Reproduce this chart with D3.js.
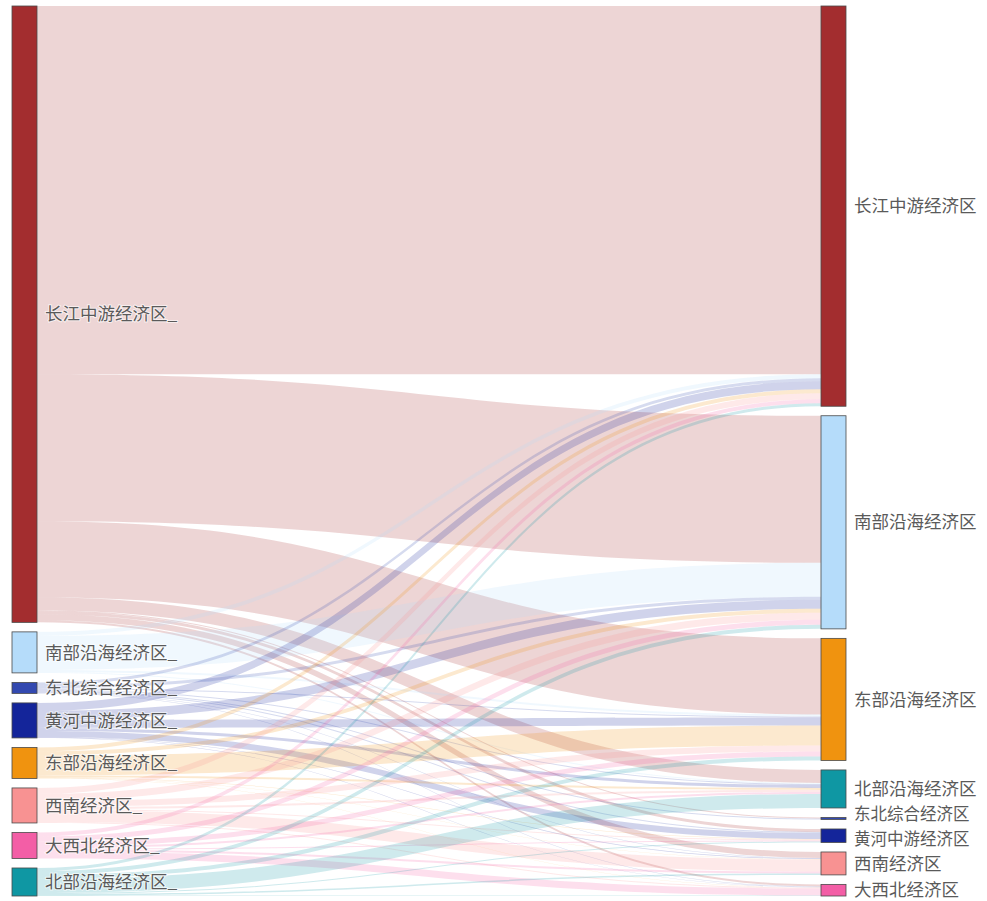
<!DOCTYPE html>
<html>
<head>
<meta charset="utf-8">
<script src="https://cdn.jsdelivr.net/npm/d3@7"></script>
<style>
  html, body { margin: 0; padding: 0; background: #fff; }
  svg { display: block; }
</style>
</head>
<body>
<div id="sankey-container"></div>
<script>
// left column (sources), top to bottom
const sourceNames = ['长江中游经济区', '南部沿海经济区', '东北综合经济区', '黄河中游经济区',
  '东部沿海经济区', '西南经济区', '大西北经济区', '北部沿海经济区'];
// right column (targets), top to bottom
const targetNames = ['长江中游经济区', '南部沿海经济区', '东部沿海经济区', '北部沿海经济区',
  '东北综合经济区', '黄河中游经济区', '西南经济区', '大西北经济区'];

// flows[source][target], targets in targetNames order
const flows = [
  [368, 147, 76, 13, 1, 3, 6, 2],
  [4, 34, 2, 1, 0, 0, 0, 0],
  [3, 3, 1, 1, 1, 1, 0.5, 0.5],
  [8, 9, 8, 3, 0, 6, 0.6, 0.4],
  [4, 4, 20, 2, 0, 0.5, 0.3, 0.2],
  [6, 7, 6, 2, 0, 1, 12, 1],
  [4, 5, 5, 2, 0, 1, 2, 7],
  [3, 4, 4, 14, 0, 1, 1.5, 0.5]
];

const regionColor = {
  '长江中游经济区': '#a32d2f',
  '南部沿海经济区': '#b5dcfa',
  '东北综合经济区': '#3349b0',
  '黄河中游经济区': '#14259a',
  '东部沿海经济区': '#f0930f',
  '西南经济区': '#f89292',
  '大西北经济区': '#f35ea6',
  '北部沿海经济区': '#0f97a3'
};

const width = 987;
const height = 901;
const yTop = 6, yBottom = 896;
const pad = 9.5;
const nodeWidth = 25;
const xLeft = 12, xRight = 821;

const svg = d3.select('#sankey-container')
  .append('svg')
  .attr('width', width)
  .attr('height', height)
  .style('background-color', '#fff');

const leftTotals = flows.map(row => d3.sum(row));
const rightTotals = targetNames.map((_, j) => d3.sum(flows, row => row[j]));
const maxTotal = Math.max(d3.sum(leftTotals), d3.sum(rightTotals));

const ky = d3.scaleLinear()
  .domain([0, maxTotal])
  .range([0, (yBottom - yTop) - (sourceNames.length - 1) * pad]);

function stack(names, totals, x) {
  let y = yTop;
  return names.map((name, i) => {
    const node = { name, x0: x, x1: x + nodeWidth, y0: y, y1: y + ky(totals[i]) };
    y = node.y1 + pad;
    return node;
  });
}

const leftNodes = stack(sourceNames, leftTotals, xLeft);
const rightNodes = stack(targetNames, rightTotals, xRight);

// link positions: at the source ordered by target, at the target ordered by source
const links = [];
const srcOffset = leftNodes.map(n => n.y0);
const tgtOffset = rightNodes.map(n => n.y0);
flows.forEach((row, i) => {
  row.forEach((v, j) => {
    if (v <= 0) return;
    links.push({ source: i, target: j, value: v, sy: 0, ty: 0 });
  });
});
links.forEach(l => {
  l.sy = srcOffset[l.source];
  srcOffset[l.source] += ky(l.value);
});
d3.range(targetNames.length).forEach(j => {
  links.filter(l => l.target === j)
    .sort((a, b) => a.source - b.source)
    .forEach(l => {
      l.ty = tgtOffset[j];
      tgtOffset[j] += ky(l.value);
    });
});

function bandPath(l) {
  const x0 = leftNodes[l.source].x1;
  const x1 = rightNodes[l.target].x0;
  const xm = x0 + (x1 - x0) * 0.5;
  const w = ky(l.value);
  const p = d3.path();
  p.moveTo(x0, l.sy);
  p.bezierCurveTo(xm, l.sy, xm, l.ty, x1, l.ty);
  p.lineTo(x1, l.ty + w);
  p.bezierCurveTo(xm, l.ty + w, xm, l.sy + w, x0, l.sy + w);
  p.closePath();
  return p.toString();
}

svg.append('g')
  .selectAll('path')
  .data(links)
  .enter().append('path')
  .attr('d', bandPath)
  .attr('fill', d => regionColor[sourceNames[d.source]])
  .attr('fill-opacity', 0.2);

const allNodes = leftNodes.map(n => ({ ...n, side: 'left' }))
  .concat(rightNodes.map(n => ({ ...n, side: 'right' })));

svg.append('g')
  .selectAll('rect')
  .data(allNodes)
  .enter().append('rect')
  .attr('x', d => d.x0)
  .attr('y', d => d.y0)
  .attr('width', d => d.x1 - d.x0)
  .attr('height', d => Math.max(1, d.y1 - d.y0))
  .attr('fill', d => regionColor[d.name])
  .attr('stroke', '#4a4a4a')
  .attr('stroke-width', 0.8);

// the two small right-hand nodes sit close together; nudge their labels apart
const crowded = ['东北综合经济区', '黄河中游经济区'];
function labelShift(d) {
  if (d.side !== 'right') return 0;
  if (d.name === crowded[0]) return -4;
  if (d.name === crowded[1]) return 3.5;
  return 0;
}

svg.append('g')
  .selectAll('text')
  .data(allNodes)
  .enter().append('text')
  .attr('x', d => d.x1 + 8)
  .attr('y', d => (d.y0 + d.y1) / 2 + labelShift(d))
  .attr('dy', '0.35em')
  .attr('font-family', '"Noto Sans CJK SC", sans-serif')
  .attr('font-size', d => d.side === 'right' && crowded.includes(d.name) ? 16.5 : 17.5)
  .attr('fill', '#5a5a5a')
  .attr('stroke', '#fff')
  .attr('stroke-width', 2)
  .attr('stroke-opacity', 0.6)
  .attr('paint-order', 'stroke')
  .text(d => d.side === 'left' ? d.name + '_' : d.name);
</script>
</body>
</html>
